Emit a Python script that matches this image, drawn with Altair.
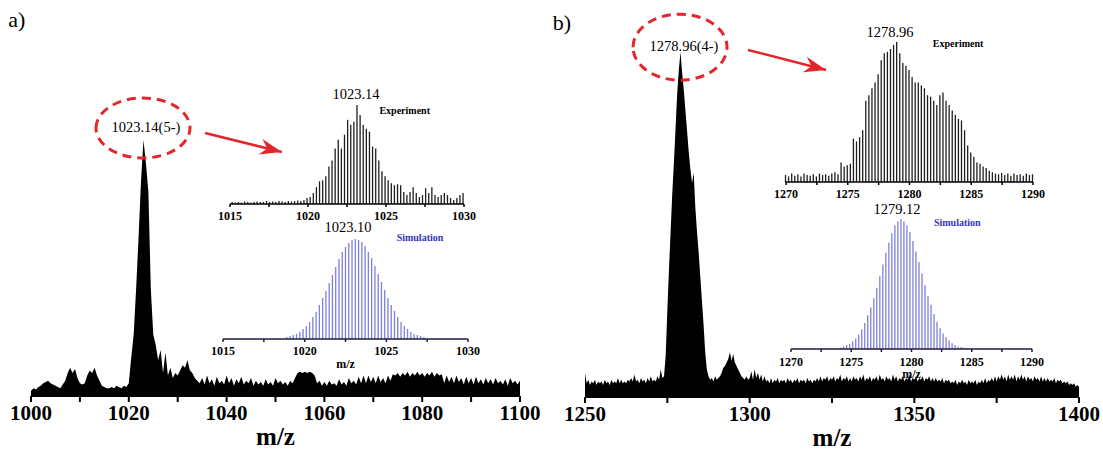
import altair as alt
import pandas as pd

FONT = "Liberation Serif"
W, H = 1103, 450
RED = "#e3262b"

# ---------------- data (intensities in % of the base peak) ----------------
# main spectrum a) : m/z 1000.0 .. 1100.0 every 0.5
main_a_start, main_a_step = 1000.0, 0.5
main_a_int = (
    [2, 3, 2.5, 3.5, 4, 5, 5.5, 6, 5, 4.5, 4, 3.5, 3, 4.5]
    + [6, 9, 11, 9, 10.5, 7, 5, 4.5]
    + [5, 8, 10, 9, 11, 8, 6, 4]
    + [3.5, 3, 3, 3.5, 3, 4, 3.5, 3, 4, 3.5, 5]
    + [15, 24, 42, 62, 84, 100, 91, 80, 42, 24, 20, 14]
    + [18, 9, 17, 8, 11, 7, 9, 8, 10, 12, 11, 14, 10, 9, 7, 6]
    + [5, 7, 4.5, 8, 5, 6.5, 4, 7.5, 5, 6, 4.5, 8, 5, 7, 4, 6.5, 5, 7.5, 4.5, 6]
    + [5, 7, 4, 6, 4.5, 5.5, 4, 6.5, 4.5, 5.5, 4, 7, 5, 6, 4.5, 5.5, 4, 6, 5, 7]
    + [9, 9.5, 9, 9.5, 9, 9.5, 9, 8]
    + [5, 6, 4, 5.5, 4, 6, 4.5, 5, 4, 6.5, 4.5, 5.5, 4, 7, 5, 6, 4.5, 7.5, 5, 8]
    + [5, 8, 5.5, 7.5, 5, 8, 5.5, 7, 5, 8, 6, 8.5]
    + [8, 9, 7.5, 9, 8, 9.5, 7.5, 9, 8, 9.5, 8, 9, 7.5, 9, 8, 9.5, 7.5, 9, 8, 8.5]
    + [5, 8, 5.5, 7.5, 5, 8, 5.5, 7, 4.5, 7.5, 5, 7, 4.5, 7.5, 5, 6.5,
       4.5, 7, 5, 6.5, 4.5, 7, 5, 6, 4.5, 6.5, 4, 7, 5, 6, 4.5, 6]
)

# main spectrum b) : m/z 1250.0 .. 1400.0 every 0.5
main_b_start, main_b_step = 1250.0, 0.5
main_b_int = (
    [7, 4, 5, 3.5, 4.5, 4, 5, 3.5, 4.5, 4]
    + [4.5, 3.5, 5, 4, 4.5, 3.5, 5, 4, 4.5, 4, 5.5, 4, 5, 4, 4.5, 4, 5, 4.5, 5.5, 4.5]
    + [6.5, 4.5, 5, 4, 5.5, 4.5, 5, 4, 5.5, 4.5, 6, 4.5, 5, 4.5, 6, 5, 8, 5.5]
    + [6, 12, 25, 37, 48, 59, 68, 78, 88, 95, 100, 94, 89, 83, 77, 71, 66, 62, 65,
       55, 48, 42, 35, 28, 21, 13, 8, 6, 5]
    + [5.5, 4.5, 6, 5, 5.5, 6, 7, 8.5, 9, 10, 11, 13, 10.5, 12.5, 10, 9, 8, 7, 6,
       5.5, 5, 6, 5, 5.5]
    + [7.5, 5, 8, 5.5, 7, 5, 6.5, 4.5, 6, 4.5]
    + [5, 4, 5.5, 4, 5, 4.5, 5.5, 4, 5, 4.5, 5, 4, 5.5, 4.5, 5, 4, 5, 4.5, 5.5, 4,
       5, 4.5, 5, 4, 5.5, 4.5, 5, 4, 5, 4.5]
    + [5.5, 4.5, 6, 4.5, 5.5, 5, 6, 4.5, 5.5, 5,
       6, 4.5, 5.5, 5, 6.5, 4.5, 5.5, 5, 6, 4.5,
       5.5, 4.5, 6, 5, 5.5, 4.5, 6, 5, 6.5, 4.5,
       5.5, 5, 6, 4.5, 5.5, 5, 6, 4.5, 6.5, 5,
       5.5, 4.5, 6, 5, 5.5, 4.5, 6.5, 5, 6, 4.5,
       5.5, 5, 6, 4.5, 5.5, 5, 6.5, 4.5, 5.5, 5,
       6, 4.5, 5.5, 5, 6, 4.5, 5.5, 5, 6, 4.5,
       5.5, 4.5, 5.5, 4.5, 5, 4.5, 5.5, 4, 5, 4.5]
    + [5, 4, 4.5, 4, 5, 3.5, 4.5, 4, 5, 4, 4.5, 3.5, 5, 4, 4.5, 4, 5, 3.5, 4.5, 4,
       5, 4, 5.5, 4, 5, 4.5, 5.5, 4.5, 6, 4.5]
    + [6, 5, 6.5, 5, 6, 4.5, 6.5, 5, 6, 5, 6.5, 4.5, 6, 5, 6.5, 5, 6, 4.5, 6, 5,
       5.5, 4.5, 6, 5, 5.5, 4.5, 6, 4.5, 5.5, 4.5, 5.5, 4.5, 5, 4.5, 5.5, 4, 5, 4.5, 5, 4]
    + [4.5, 4, 4.5, 3.5, 4, 3.5, 4, 3, 3.5, 3]
)

# inset a) experiment : isotope lines every 0.2 (5-)
exp_a_start, exp_a_step = 1015.14, 0.2
exp_a_int = (
    [2, 1.5, 2, 1.5, 2.5, 2, 1.5, 2, 2.5, 2, 2, 3, 2, 2.5, 2, 3, 2.5, 2, 3, 2.5, 3, 3.5, 3, 4]
    + [6, 7, 11, 17, 23, 24, 28, 38, 44, 56, 65, 56, 70, 85, 80, 83, 100, 90, 80, 76,
       73, 58, 56, 44, 33, 28, 24, 21, 19, 20, 19, 12, 9, 12, 17, 11, 7, 9, 16, 11,
       17, 9, 7, 9, 11, 9, 6, 4, 6, 9, 11]
)

# inset a) simulation : isotope lines every 0.2
sim_a_start, sim_a_step = 1018.9, 0.2
sim_a_int = [2, 3, 4, 5, 7, 10, 13, 17, 22, 27, 34, 41, 48, 56, 64, 72, 80, 87, 92, 96, 99,
             100, 99, 97, 93, 87, 81, 73, 65, 57, 49, 41, 34, 28, 22, 17, 13, 10, 7, 5, 4, 3, 2]

# inset b) experiment : isotope lines every 0.25 (4-)
exp_b_start, exp_b_step = 1269.96, 0.25
exp_b_int = (
    [5, 4, 6, 4.5, 5.5, 4, 6, 5, 4.5, 5.5, 4, 6, 5, 5.5, 4.5, 6, 7, 5.5]
    + [14]
    + [11, 12, 13, 31, 29, 32, 37, 58, 62, 67, 71, 77, 87, 92, 93, 95, 98, 100, 92, 85,
       83, 80, 75, 71, 71, 69, 67, 62, 61, 58, 55, 62, 64, 58, 55, 51, 48, 45, 44, 37,
       26, 21, 18, 14, 13, 11, 10, 8]
    + [7, 6, 5.5, 6.5, 5, 6, 4.5, 6, 5, 5.5, 4.5, 6, 5, 5.5]
)

# inset b) simulation : isotope lines every 0.25
sim_b_start, sim_b_step = 1274.12, 0.25
sim_b_int = [1, 2, 3, 4, 6, 8, 11, 15, 20, 26, 32, 39, 47, 56, 65, 74, 82, 89, 95, 98,
             100, 98, 95, 90, 83, 75, 67, 58, 49, 41, 34, 27, 21, 16, 12, 9, 6.5, 4.5, 3, 2, 1.5, 1, 0.7]

main_a_ticks = [1000, 1010, 1020, 1030, 1040, 1050, 1060, 1070, 1080, 1090, 1100]
main_b_ticks = [1250, 1275, 1300, 1325, 1350, 1375, 1400]
inset_a_ticks = [1015, 1017.5, 1020, 1022.5, 1025, 1027.5, 1030]
inset_b_ticks = [1270, 1272.5, 1275, 1277.5, 1280, 1282.5, 1285, 1287.5, 1290]

peak_labels = ["1023.14(5-)", "1023.14", "1023.10", "1278.96(4-)", "1278.96", "1279.12"]
panel_labels = ["a)", "b)"]
inset_titles = ["Experiment", "Simulation"]
axis_title = "m/z"


# ---------------- helpers ----------------
def series(start, step, vals):
    return pd.DataFrame({"mz": [round(start + step * i, 3) for i in range(len(vals))], "v": vals})


def xs(dom, rng):
    return alt.Scale(domain=dom, range=rng, nice=False, zero=False)


def ys(rng):
    return alt.Scale(domain=[0, 100], range=rng, nice=False)


def enc_xy(xsc, ysc, xf="x:Q", yf="y:Q"):
    return dict(x=alt.X(xf, scale=xsc, axis=None), y=alt.Y(yf, scale=ysc, axis=None))


def text(x, y, t, xsc, ysc, size, weight="normal", color="black"):
    return alt.Chart(pd.DataFrame({"x": [x], "y": [y], "t": [t]})).mark_text(
        font=FONT, fontSize=size, fontWeight=weight, color=color
    ).encode(text="t:N", **enc_xy(xsc, ysc))


def bottom_axis(xsc, ysc, dom, ticks, mod, upx, tick_px, lab_px, lsize, color, dw,
                title=None, title_px=0, tsize=11):
    """Axis drawn with marks: domain line at y=0, ticks and labels below it."""
    out = []
    out.append(alt.Chart(pd.DataFrame({"x": [dom[0]], "x2": [dom[1]], "y": [0]})).mark_rule(
        color=color, strokeWidth=dw).encode(x2="x2:Q", **enc_xy(xsc, ysc)))
    n = len(ticks)
    out.append(alt.Chart(pd.DataFrame({"x": ticks, "y": [0] * n, "y2": [-tick_px / upx] * n})).mark_rule(
        color=color, strokeWidth=dw).encode(y2="y2:Q", **enc_xy(xsc, ysc)))
    lab = [t for t in ticks if t % mod == 0]
    out.append(alt.Chart(pd.DataFrame({"x": lab, "y": [-lab_px / upx] * len(lab),
                                       "t": [str(int(t)) for t in lab]})).mark_text(
        font=FONT, fontSize=lsize, fontWeight="bold", color="black"
    ).encode(text="t:N", **enc_xy(xsc, ysc)))
    if title:
        out.append(text((dom[0] + dom[1]) / 2, -title_px / upx, title, xsc, ysc, tsize, "bold"))
    return out


def ellipse(x, y, rx, ry, xsc, ysc):
    k = round(ry / rx, 3)
    c = round(0.5523 * k, 3)
    path = (f"M -1 0 C -1 -{c} -0.5523 -{k} 0 -{k} C 0.5523 -{k} 1 -{c} 1 0 "
            f"C 1 {c} 0.5523 {k} 0 {k} C -0.5523 {k} -1 {c} -1 0 Z")
    return alt.Chart(pd.DataFrame({"x": [x], "y": [y]})).mark_point(
        shape=path, size=(2 * rx) ** 2, filled=False, stroke=RED, strokeWidth=3,
        strokeDash=[9, 6], opacity=1
    ).encode(**enc_xy(xsc, ysc))


def arrow(x0, y0, x1, y1, ang, xsc, ysc):
    d = pd.DataFrame({"x": [x0], "y": [y0], "x2": [x1], "y2": [y1]})
    line = alt.Chart(d).mark_rule(color=RED, strokeWidth=2.5).encode(
        x2="x2:Q", y2="y2:Q", **enc_xy(xsc, ysc))
    head = alt.Chart(pd.DataFrame({"x": [x1], "y": [y1]})).mark_point(
        shape="M 0 0 L -2.2 -0.8 L -1.5 0 L -2.2 0.8 Z", size=400, filled=True,
        color=RED, opacity=1, angle=ang, strokeWidth=0
    ).encode(**enc_xy(xsc, ysc))
    return [line, head]


def spectrum_area(df, xsc, ysc):
    return alt.Chart(df).mark_area(color="black", interpolate="linear").encode(
        x=alt.X("mz:Q", scale=xsc, axis=None),
        y=alt.Y("v:Q", scale=ysc, axis=None, stack=None),
    )


def sticks(df, xsc, ysc, color):
    return alt.Chart(df).mark_rule(color=color, strokeWidth=1.3).encode(
        x=alt.X("mz:Q", scale=xsc, axis=None),
        y=alt.Y("v:Q", scale=ysc, axis=None),
        y2=alt.datum(0),
    )


EXP_C, SIM_C, SIM_AX, SIM_TXT = "#1e1e1e", "#7f7fdc", "#1c1c40", "#3434b4"
MAIN_LS, MAIN_TS, INS_LS = 21, 25, 12

# ---------------- panel a ----------------
xa, ya = xs([1000, 1100], [31, 520]), ys([396, 140])
grp_a = alt.layer(
    spectrum_area(series(main_a_start, main_a_step, main_a_int), xa, ya),
    *bottom_axis(xa, ya, [1000, 1100], main_a_ticks, 20, 2.56, 6, 18, MAIN_LS, "black", 2,
                 axis_title, 41, MAIN_TS),
    text(1023.5, 104.7, peak_labels[0], xa, ya, 14.5),
    ellipse(1022.9, 104.7, 47, 30, xa, ya),
    *arrow(1035.6, 102.7, 1051.3, 95.3, 13.9, xa, ya),
    text(997.1, 146.9, panel_labels[0], xa, ya, 22),
)

xea, yea = xs([1015, 1030], [230, 464]), ys([204, 105])
grp_ea = alt.layer(
    sticks(series(exp_a_start, exp_a_step, exp_a_int), xea, yea, EXP_C),
    *bottom_axis(xea, yea, [1015, 1030], inset_a_ticks, 5, 0.99, 3, 12, INS_LS, "black", 1.5),
    text(1023.08, 110, peak_labels[1], xea, yea, 14.5),
    text(1026.2, 94, inset_titles[0], xea, yea, 10, "bold"),
)

xsa, ysa = xs([1015, 1030], [223, 468]), ys([339, 239])
grp_sa = alt.layer(
    sticks(series(sim_a_start, sim_a_step, sim_a_int), xsa, ysa, SIM_C),
    *bottom_axis(xsa, ysa, [1015, 1030], inset_a_ticks, 5, 1.0, 3, 12, INS_LS, SIM_AX, 1.5,
                 axis_title, 25, 12),
    text(1022.65, 111, peak_labels[2], xsa, ysa, 14.5),
    text(1027.06, 101, inset_titles[1], xsa, ysa, 10, "bold", SIM_TXT),
)

# ---------------- panel b ----------------
xb, yb = xs([1250, 1400], [585, 1079]), ys([397, 52])
grp_b = alt.layer(
    spectrum_area(series(main_b_start, main_b_step, main_b_int), xb, yb),
    *bottom_axis(xb, yb, [1250, 1400], main_b_ticks, 50, 3.45, 6, 18, MAIN_LS, "black", 2,
                 axis_title, 41, MAIN_TS),
    text(1280.06, 101.4, peak_labels[3], xb, yb, 14.5),
    ellipse(1278.85, 101.4, 47, 33, xb, yb),
    *arrow(1299.5, 100.6, 1323.2, 94.8, 14.4, xb, yb),
    text(1243.0, 108.4, panel_labels[1], xb, yb, 22),
)

xeb, yeb = xs([1270, 1290], [786, 1033]), ys([182, 42])
grp_eb = alt.layer(
    sticks(series(exp_b_start, exp_b_step, exp_b_int), xeb, yeb, EXP_C),
    *bottom_axis(xeb, yeb, [1270, 1290], inset_b_ticks, 5, 1.4, 3, 12, INS_LS, "black", 1.5),
    text(1278.42, 106.4, peak_labels[4], xeb, yeb, 14.5),
    text(1283.93, 98.6, inset_titles[0], xeb, yeb, 10, "bold"),
)

xsb, ysb = xs([1270, 1290], [791, 1032]), ys([349, 219])
grp_sb = alt.layer(
    sticks(series(sim_b_start, sim_b_step, sim_b_int), xsb, ysb, SIM_C),
    *bottom_axis(xsb, ysb, [1270, 1290], inset_b_ticks, 5, 1.3, 3, 13, INS_LS, SIM_AX, 1.5,
                 axis_title, 25, 12),
    text(1278.8, 107, peak_labels[5], xsb, ysb, 14.5),
    text(1283.8, 97, inset_titles[1], xsb, ysb, 10, "bold", SIM_TXT),
)

chart = alt.layer(
    grp_a, grp_ea, grp_sa, grp_b, grp_eb, grp_sb
).resolve_scale(
    x="independent", y="independent"
).properties(
    width=W, height=H, padding=0, autosize=alt.AutoSizeParams(type="none"),
    background="white",
).configure_view(stroke=None)

chart.save("out.html", embed_options={"renderer": "svg", "actions": False})
